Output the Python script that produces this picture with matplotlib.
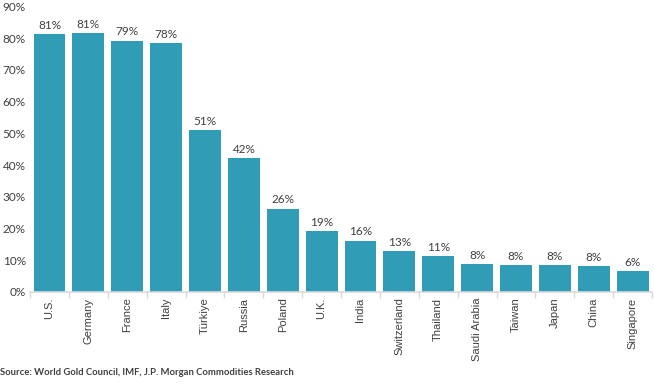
import numpy as np
import matplotlib.pyplot as plt
from matplotlib.ticker import FuncFormatter, FixedLocator

countries = ["U.S.", "Germany", "France", "Italy", "Türkiye", "Russia", "Poland",
             "U.K.", "India", "Switzerland", "Thailand", "Saudi Arabia", "Taiwan",
             "Japan", "China", "Singapore"]
share = [81.3, 81.6, 79.2, 78.5, 51.0, 42.2, 26.3, 19.3, 16.2, 12.8, 11.2,
         8.8, 8.5, 8.5, 8.1, 6.6]
labels = ["81%", "81%", "79%", "78%", "51%", "42%", "26%", "19%", "16%", "13%",
          "11%", "8%", "8%", "8%", "8%", "6%"]

BAR = "#309CB6"
TXT = "#404040"

fig = plt.figure(figsize=(6.54, 3.85), dpi=100)
ax = fig.add_axes([0.046, 0.2416, 0.951, 0.742])

x = np.arange(len(countries))
ax.bar(x, share, width=0.82, color=BAR, zorder=2)

for xi, v, lab in zip(x, share, labels):
    ax.text(xi, v + 1.0, lab, ha="center", va="bottom", fontsize=8.5,
            color=TXT, family="Lato")

ax.set_xlim(-0.5, len(countries) - 0.5)
ax.set_ylim(0, 90)
ax.set_yticks(np.arange(0, 91, 10))
ax.yaxis.set_major_formatter(FuncFormatter(lambda v, p: f"{v:.0f}%"))
ax.tick_params(axis="y", length=0, labelsize=8.5, labelcolor=TXT, pad=3)
for t in ax.get_yticklabels():
    t.set_family("Lato")

# category labels (no ticks) + boundary tick marks
ax.set_xticks(x)
ax.set_xticklabels(countries, rotation=90, fontsize=8, color=TXT,
                   family="Liberation Sans")
ax.tick_params(axis="x", which="major", length=0, pad=4)
ax.xaxis.set_minor_locator(FixedLocator(np.arange(-0.5, len(countries), 1.0)))
ax.tick_params(axis="x", which="minor", length=4, width=1, color="#D9D9D9",
               direction="out")

for s in ["top", "right", "left"]:
    ax.spines[s].set_visible(False)
ax.spines["bottom"].set_color("#D9D9D9")
ax.spines["bottom"].set_linewidth(1.2)

fig.text(0.0, 0.02, "Source: World Gold Council, IMF, J.P. Morgan Commodities Research",
         fontsize=6.8, fontweight="bold", color=TXT, family="Lato",
         ha="left", va="bottom")

fig.savefig("out.png", dpi=100, facecolor="white")
